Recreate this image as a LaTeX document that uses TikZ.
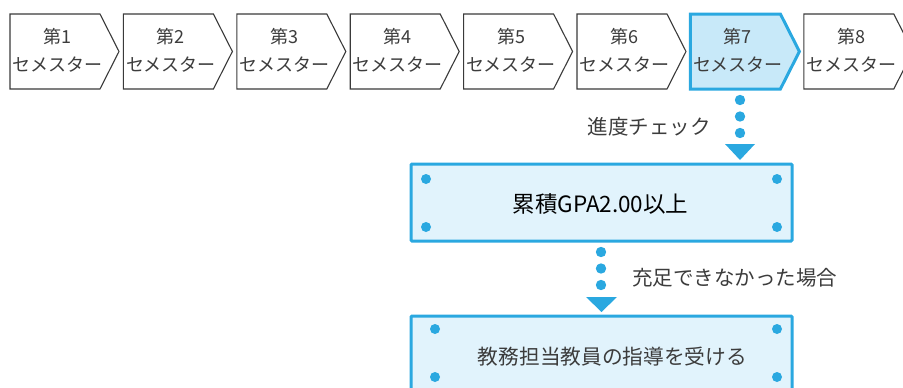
\documentclass[tikz,border=0pt]{standalone}
\usepackage{fontspec}
\setmainfont{Noto Sans CJK JP}
\usetikzlibrary{calc}
\definecolor{cyanline}{HTML}{2AA8E0}
\definecolor{semfill}{HTML}{C8E9F9}
\definecolor{boxfill}{HTML}{E1F3FC}
\definecolor{linegray}{HTML}{3A3A3A}
\definecolor{txtgray}{HTML}{3C3C3C}
\begin{document}
\begin{tikzpicture}[x=1pt,y=-1pt,
  sem/.style={draw=linegray, line width=1.1pt, fill=white, line join=miter},
  semcur/.style={draw=cyanline, line width=3pt, fill=semfill, line join=miter},
  semtxt/.style={align=center, font=\fontsize{18}{28}\selectfont, text=txtgray, inner sep=0pt},
  bigbox/.style={draw=cyanline, line width=3pt, fill=boxfill, rounded corners=1pt},
  bdot/.style={fill=cyanline, draw=none},
  lbl/.style={font=\fontsize{20.5}{24}\selectfont, text=txtgray, inner sep=0pt}]
\useasboundingbox (0,0) rectangle (903,388);
% semesters
\foreach \i/\xo in {1/10,2/123.4,3/236.8,4/350.2,5/463.6,6/577,8/803.8}{
  \draw[sem] (\xo,14) -- ++(90,0) -- ++(19,37.5) -- ++(-19,37.5) -- ++(-90,0) -- cycle;
  \node[semtxt] (s\i) at (\xo+47.5,50) {第\i\\セメスター};
}
\draw[semcur] (690.4,14) -- ++(90,0) -- ++(19,37.5) -- ++(-19,37.5) -- ++(-90,0) -- cycle;
\node[semtxt] (s7) at (737.9,50) {第7\\セメスター};
% connector 1
\coordinate (c1) at (740,100);
\foreach \dy in {0,16.5,33} \fill[bdot] ($(c1)+(0,\dy)$) circle (5.2);
\fill[bdot] (725,144) -- (755,144) -- (740,160) -- cycle;
\node[lbl, anchor=east] (l1) at (711,127) {進度チェック};
% box 1
\draw[bigbox] (411,164) rectangle (792,241);
\node[font=\fontsize{22.5}{26}\selectfont, inner sep=0pt, text=black] (t1) at (600.5,204) {累積GPA2.00以上};
\foreach \p in {(426,179),(426,227),(777,179),(777,227)} \fill[bdot] \p circle (5);
% connector 2
\foreach \y in {252,268.5,285} \fill[bdot] (601,\y) circle (5.2);
\fill[bdot] (586,297) -- (617,297) -- (601.5,312) -- cycle;
\node[lbl, anchor=west] (l2) at (632,278) {充足できなかった場合};
% box 2
\draw[bigbox] (411,316) rectangle (792,400);
\node[font=\fontsize{20.7}{24}\selectfont, inner sep=0pt, text=txtgray] (t2) at (612.5,357) {教務担当教員の指導を受ける};
\foreach \p in {(435,329),(435,377),(777,329),(777,377)} \fill[bdot] \p circle (5);
\end{tikzpicture}
\end{document}
